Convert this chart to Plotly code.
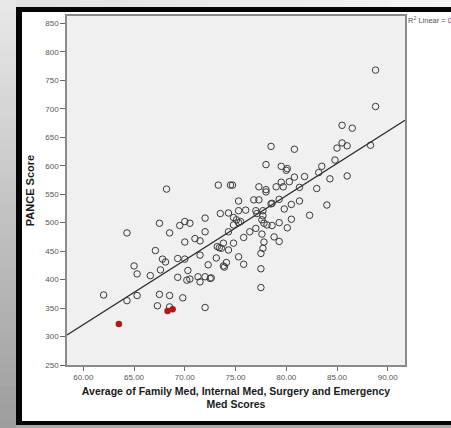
import plotly.graph_objects as go

# ---- data ----
x_open = [88.8, 88.8, 85.5, 86.5, 78.5, 80.8, 85.0, 85.5, 86.0, 88.3,
          78.0, 79.5, 80.0, 80.1, 83.5, 84.8, 83.2, 86.0, 84.3, 81.8,
          80.8, 80.3, 79.5, 73.3, 74.5, 74.7, 77.3, 78.0, 79.0, 79.7,
          81.3, 83.0, 68.2, 73.5, 64.3, 67.5, 68.5, 69.5, 70.0, 70.5,
          72.0, 72.0, 70.0, 71.0, 71.5, 73.2, 67.1, 67.8, 68.1, 69.3,
          70.0, 71.5, 73.1, 65.0, 65.3, 67.6, 70.3, 72.3, 66.6, 69.3,
          70.2, 70.5, 71.3, 71.5, 72.0, 72.5, 62.0, 64.3, 65.3, 67.5,
          68.5, 69.8, 67.3, 68.5, 72.0, 78.0, 84.0, 75.3, 76.8, 77.3,
          78.5, 78.6, 79.3, 80.5, 81.3, 82.3, 79.8, 74.3, 74.8, 75.3,
          76.0, 77.0, 77.7, 77.1, 77.7, 75.1, 74.8, 75.5, 77.6, 77.8,
          78.1, 78.6, 79.3, 80.5, 80.1, 74.3, 76.4, 77.0, 77.6, 75.8,
          77.8, 78.8, 79.3, 73.8, 74.8, 73.4, 73.6, 74.3, 77.7, 77.5,
          75.3, 74.1, 73.8, 73.9, 75.8, 77.5, 72.6, 77.5, 75.3]
y_open = [768, 704, 671, 666, 634, 629, 631, 640, 635, 636,
          602, 599, 592, 595, 599, 610, 588, 582, 577, 581,
          580, 572, 571, 566, 566, 566, 563, 558, 563, 563,
          562, 560, 559, 516, 482, 499, 482, 495, 502, 499,
          508, 484, 466, 472, 468, 458, 451, 436, 431, 437,
          436, 443, 438, 424, 410, 417, 416, 426, 407, 404,
          399, 401, 405, 396, 405, 402, 373, 363, 372, 374,
          372, 368, 354, 352, 351, 554, 531, 538, 540, 540,
          533, 534, 541, 532, 538, 513, 524, 517, 509, 521,
          522, 521, 521, 516, 512, 505, 496, 502, 505, 499,
          496, 495, 500, 506, 491, 484, 484, 490, 480, 474,
          466, 475, 467, 464, 464, 456, 455, 452, 455, 446,
          440, 430, 424, 422, 427, 419, 403, 386, 500]
x_red = [63.5, 68.3, 68.8]
y_red = [322, 345, 348]
fit_x = [58.39, 91.7]
fit_y = [302.7, 680.0]
x_ticks = [60, 65, 70, 75, 80, 85, 90]
y_ticks = [250, 300, 350, 400, 450, 500, 550, 600, 650, 700, 750, 800, 850]
x_title = "Average of Family Med, Internal Med, Surgery and Emergency<br>Med Scores"
y_title = "PANCE Score"
r2_label = "R<sup>2</sup> Linear = 0.557"

# ---- layout geometry (pixels) ----
W, H = 451, 428
L, R, T, B = 67, 405, 16, 365


def px(v):
    return (v - L) / (R - L)


def py(v):
    return (B - v) / (B - T)


fig = go.Figure()
fig.add_trace(go.Scatter(x=fit_x, y=fit_y, mode="lines",
                         line=dict(color="#2a2a2a", width=1.3),
                         hoverinfo="skip", showlegend=False))
fig.add_trace(go.Scatter(x=x_open, y=y_open, mode="markers",
                         marker=dict(symbol="circle-open", size=6.5,
                                     color="#3a3a3a", line=dict(width=1.0)),
                         showlegend=False))
fig.add_trace(go.Scatter(x=x_red, y=y_red, mode="markers",
                         marker=dict(symbol="circle", size=6.5, color="#b01818"),
                         showlegend=False))

shapes = []
# gradient left strip
n = 40
for i in range(n):
    y0 = H * i / n
    y1 = H * (i + 1) / n + 0.6
    g = int(232 - (232 - 158) * i / (n - 1))
    shapes.append(dict(type="rect", xref="paper", yref="paper",
                       x0=px(-2), x1=px(16), y0=py(y0), y1=py(y1),
                       fillcolor=f"rgb({g},{g},{g})", line=dict(width=0),
                       layer="below"))
# gradient top strip
m = 20
for i in range(m):
    x0 = 16 + (W + 4 - 16) * i / m
    x1 = 16 + (W + 4 - 16) * (i + 1) / m + 0.6
    g = int(226 + (244 - 226) * i / (m - 1))
    shapes.append(dict(type="rect", xref="paper", yref="paper",
                       x0=px(x0), x1=px(x1), y0=py(-2), y1=py(7),
                       fillcolor=f"rgb({g},{g},{g})", line=dict(width=0),
                       layer="below"))
# bottom strip
shapes.append(dict(type="rect", xref="paper", yref="paper",
                   x0=px(16), x1=px(W + 4), y0=py(425), y1=py(H + 2),
                   fillcolor="rgb(170,170,170)", line=dict(width=0), layer="below"))
# black frame
for (a, b, c, d) in [(16, W + 4, 7, 12), (16, 22, 7, 425), (16, W + 4, 421, 425)]:
    shapes.append(dict(type="rect", xref="paper", yref="paper",
                       x0=px(a), x1=px(b), y0=py(c), y1=py(d),
                       fillcolor="#050505", line=dict(width=0), layer="below"))

fig.update_layout(
    width=W, height=H,
    margin=dict(l=L, r=W - R, t=T, b=H - B, pad=0),
    paper_bgcolor="white", plot_bgcolor="#f0f0f0",
    font=dict(family="Liberation Sans, Arial, sans-serif", color="#555555", size=8),
    shapes=shapes,
    xaxis=dict(range=[58.39, 91.7], tickvals=x_ticks,
               ticktext=[f"{v:.2f}" for v in x_ticks],
               showgrid=False, zeroline=False, showline=True, mirror=True,
               linecolor="#8a8a8a", linewidth=1.5, ticks="outside",
               ticklen=4, tickwidth=1.2, tickcolor="#666666",
               tickfont=dict(size=8, color="#555555"),
               title=dict(text=x_title, standoff=6,
                          font=dict(size=10.5, color="#1a1a1a",
                                    family="Liberation Sans, Arial, sans-serif",
                                    weight="bold"))),
    yaxis=dict(range=[250, 863], tickvals=y_ticks,
               showgrid=False, zeroline=False, showline=True, mirror=True,
               linecolor="#8a8a8a", linewidth=1.5, ticks="outside",
               ticklen=5, tickwidth=1.2, tickcolor="#666666",
               tickfont=dict(size=8, color="#555555"),
               title=dict(text=y_title, standoff=8,
                          font=dict(size=11, color="#1a1a1a",
                                    family="Liberation Sans, Arial, sans-serif",
                                    weight="bold"))),
    annotations=[dict(text=r2_label, xref="paper", yref="paper",
                      x=px(406), y=py(20), xanchor="left", yanchor="middle",
                      showarrow=False, font=dict(size=7.5, color="#555555"))],
)

fig.write_html("out.html", config={"displayModeBar": False},
               post_script="document.body.style.margin='0px';document.body.style.overflow='hidden';")
